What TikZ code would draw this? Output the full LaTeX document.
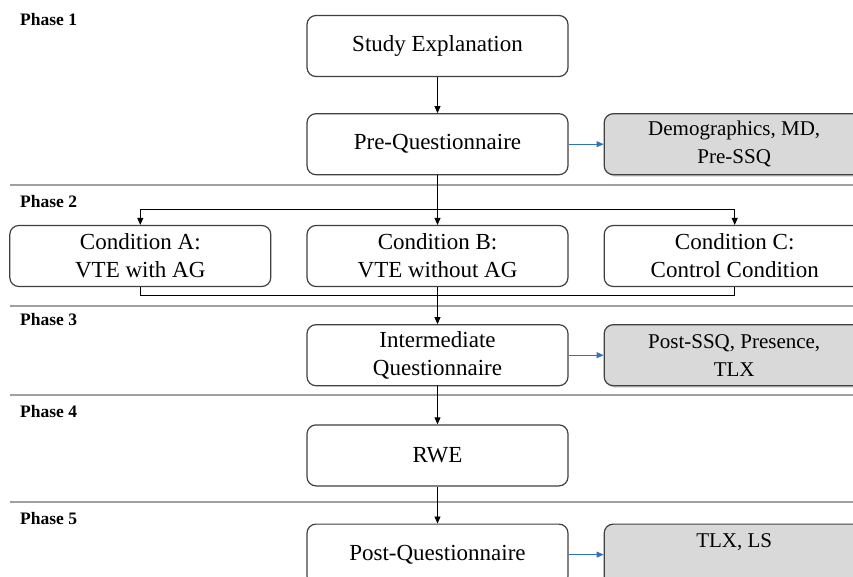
\documentclass[tikz,border=0pt]{standalone}
\usepackage{fontspec}
\setmainfont{Liberation Serif}
\usetikzlibrary{positioning,arrows.meta,shadows}
\definecolor{boxline}{HTML}{404040}
\definecolor{infofill}{HTML}{D9D9D9}
\definecolor{sepline}{HTML}{A0A0A0}
\definecolor{infoarrow}{HTML}{2E75B6}

\begin{document}
\begin{tikzpicture}[x=1pt, y=-1pt, node distance=36pt,
    main/.style = {draw=boxline, line width=1.2pt, rounded corners=9pt, fill=white,
        minimum width=261pt, minimum height=61pt, align=center,
        font=\fontsize{23}{28}\selectfont},
    info/.style = {main, fill=infofill, minimum width=260pt,
        drop shadow={shadow xshift=2pt, shadow yshift=-2pt, opacity=0.35},
        font=\fontsize{21}{28}\selectfont},
    phase/.style = {anchor=west, inner sep=0pt, font=\fontsize{17.5}{19}\selectfont\bfseries},
    sep/.style = {draw=sepline, line width=1.5pt},
    link/.style = {line width=0.9pt},
    flow/.style = {link, -{Triangle[length=7pt,width=6pt]}},
    feed/.style = {-{Triangle[length=7pt,width=6pt]}, infoarrow, line width=0.8pt}]
        \useasboundingbox (0,0) rectangle (853,577);
        \clip (0,0) rectangle (853,577);

        % phase separators and labels
        \foreach \y in {185,306,395,502}
            \draw[sep] (10,\y) -- (853,\y);
        \node[phase] (p1) at (20,20) {Phase 1};
        \node[phase] (p2) at (20,202) {Phase 2};
        \node[phase] (p3) at (20,320) {Phase 3};
        \node[phase] (p4) at (20,412) {Phase 4};
        \node[phase] (p5) at (20,519) {Phase 5};

        \node[main] (SE) at (437.5,46) {Study Explanation};
        \node[main] (PQ) [below=36pt of SE] {Pre-Questionnaire};
        \node[info] (DM) [right=35pt of PQ] {Demographics, MD,\\Pre-SSQ};

        \node[main] (CB) at (437.5,256) {Condition B:\\VTE without AG};
        \node[main] (CA) [left=35pt of CB] {Condition A:\\VTE with AG};
        \node[main] (CC) [right=35pt of CB] {Condition C:\\Control Condition};

        \node[main] (IQ) [below=37pt of CB] {Intermediate\\Questionnaire};
        \node[info] (PS) [right=35pt of IQ] {Post-SSQ, Presence,\\TLX};
        \node[main] (RW) [below=38pt of IQ] {RWE};
        \node[main] (PO) [below=37pt of RW] {Post-Questionnaire};
        \node[info] (TL) [right=35pt of PO] {TLX, LS\\~};

        \coordinate (split) at (437.5,209);
        \coordinate (merge) at (437.5,295);

        \draw[flow] (SE) -- (PQ);
        \draw[link] (PQ.south) -- (split);
        \draw[flow] (split) -- (CB.north);
        \draw[flow] (split) -| (CA.north);
        \draw[flow] (split) -| (CC.north);
        \draw[link] (CA.south) |- (merge);
        \draw[link] (CC.south) |- (merge);
        \draw[flow] (CB.south) -- (IQ.north);
        \draw[flow] (IQ) -- (RW);
        \draw[flow] (RW) -- (PO);

        \draw[feed] (PQ) -- (DM);
        \draw[feed] (IQ) -- (PS);
        \draw[feed] (PO) -- (TL);
    \end{tikzpicture}
\end{document}
